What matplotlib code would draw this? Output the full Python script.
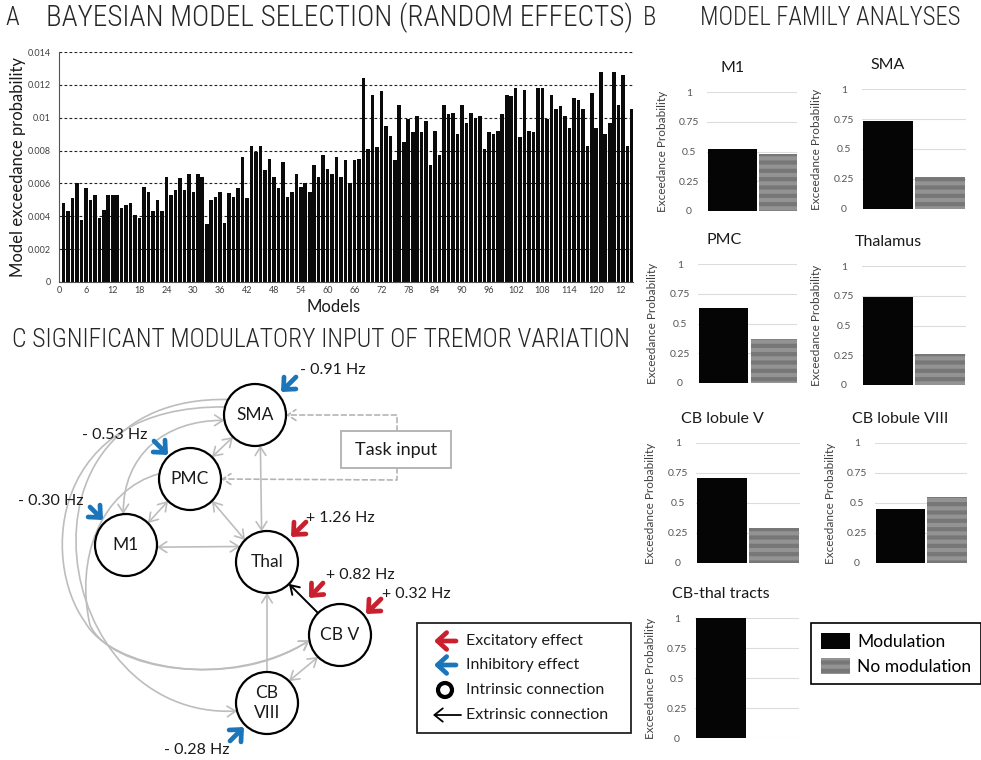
import numpy as np
import matplotlib
matplotlib.use('Agg')
import matplotlib.pyplot as plt
from matplotlib.patches import Circle, FancyArrowPatch, Rectangle
from matplotlib.path import Path
from matplotlib.transforms import Bbox, TransformedBbox, IdentityTransform

plt.rcParams['font.family'] = ['Lato', 'DejaVu Sans']
plt.rcParams['hatch.linewidth'] = 3.0

#%% data
# exceedance probability per model, models 1..128
exc_1_32 = [0.0048, 0.0043, 0.0051, 0.0060, 0.0038, 0.0057, 0.0050, 0.0053,
            0.0039, 0.0044, 0.0053, 0.0053, 0.0053, 0.0045, 0.0047, 0.0048,
            0.0041, 0.0039, 0.0058, 0.0055, 0.0043, 0.0050, 0.0043, 0.0064,
            0.0053, 0.0056, 0.0063, 0.0056, 0.0066, 0.0055, 0.0066, 0.0064]
exc_33_64 = [0.0035, 0.0050, 0.0052, 0.0055, 0.0036, 0.0054, 0.0052, 0.0057,
             0.0076, 0.0051, 0.0083, 0.0079, 0.0083, 0.0068, 0.0075, 0.0064,
             0.0057, 0.0073, 0.0052, 0.0055, 0.0066, 0.0058, 0.0060, 0.0055,
             0.0071, 0.0064, 0.0077, 0.0069, 0.0066, 0.0076, 0.0064, 0.0074]
exc_65_96 = [0.0060, 0.0074, 0.0075, 0.0124, 0.0081, 0.0114, 0.0082, 0.0116,
             0.0095, 0.0089, 0.0074, 0.0108, 0.0085, 0.0099, 0.0091, 0.0101,
             0.0091, 0.0098, 0.0071, 0.0092, 0.0077, 0.0108, 0.0102, 0.0103,
             0.0090, 0.0108, 0.0097, 0.0103, 0.0100, 0.0101, 0.0081, 0.0091]
exc_97_128 = [0.0090, 0.0092, 0.0102, 0.0114, 0.0113, 0.0118, 0.0088, 0.0117,
              0.0092, 0.0091, 0.0118, 0.0118, 0.0099, 0.0114, 0.0105, 0.0107,
              0.0101, 0.0094, 0.0112, 0.0111, 0.0105, 0.0083, 0.0115, 0.0094,
              0.0128, 0.0090, 0.0097, 0.0128, 0.0108, 0.0126, 0.0083, 0.0105]
model_exc = exc_1_32 + exc_33_64 + exc_65_96 + exc_97_128
model_ids = np.arange(1, len(model_exc) + 1)
yticks_a = [0, 0.002, 0.004, 0.006, 0.008, 0.01, 0.012, 0.014]

# family comparisons
families = ['M1', 'SMA', 'PMC', 'Thalamus', 'CB lobule V', 'CB lobule VIII', 'CB-thal tracts']
p_mod = [0.52, 0.73, 0.63, 0.74, 0.71, 0.45, 1.0]
p_nomod = [0.48, 0.27, 0.37, 0.26, 0.29, 0.55, 0.0]
groups = ['Modulation', 'No modulation']
yticks_b = [0, 0.25, 0.5, 0.75, 1]

# DCM network
regions = ['SMA', 'PMC', 'M1', 'Thal', 'CB V', 'CB VIII']
mod_sites = ['SMA', 'PMC', 'M1', 'Thal', 'CB V-Thal', 'CB V', 'CB VIII']
mod_hz = [-0.91, -0.53, -0.30, 1.26, 0.82, 0.32, -0.28]
legend_c = ['Excitatory effect', 'Inhibitory effect', 'Intrinsic connection', 'Extrinsic connection']

#%% layout (pixels, y down)
W, H = 981, 760
fig = plt.figure(figsize=(W / 100, H / 100), dpi=100)


def px_axes(x0, yt, x1, yb):
    return fig.add_axes([x0 / W, 1 - yb / H, (x1 - x0) / W, (yb - yt) / H])


def fit_width(t, width):
    r = fig.canvas.get_renderer()
    w = t.get_window_extent(r).width
    t.set_fontsize(t.get_fontsize() * width / w)


RED = '#c8202f'
BLUE = '#1b75bb'
GREY = '#bdbdbd'

# overlay for titles and the network drawing
ov = fig.add_axes([0, 0, 1, 1])
ov.set_xlim(0, W)
ov.set_ylim(H, 0)
ov.axis('off')

title_font = ['Liberation Sans Narrow', 'Roboto Condensed', 'DejaVu Sans']
for x, y, s, w in [(5, 18, 'A', None), (46, 18, 'BAYESIAN MODEL SELECTION (RANDOM EFFECTS)', 587),
                   (643, 18, 'B', None), (700, 18, 'MODEL FAMILY ANALYSES', 260),
                   (12, 340, 'C SIGNIFICANT MODULATORY INPUT OF TREMOR VARIATION', 621)]:
    t = ov.text(x, y, s, fontsize=18, family=title_font, fontweight='light',
                color='#262626', ha='left', va='center')
    if w:
        fit_width(t, w)

#%% A: bayesian model selection
ax = px_axes(59, 52, 633, 282)
ax.bar(model_ids, model_exc, width=0.8, color='#0a0a0a', linewidth=0)
ax.set_xlim(0, 128.2)
ax.set_ylim(0, 0.014)
ax.set_yticks(yticks_a)
ax.set_yticklabels([f'{v:g}' for v in yticks_a])
ax.set_xticks(np.arange(0, 127, 6))
ax.set_axisbelow(True)
ax.yaxis.grid(True, color='#222222', linestyle=(0, (2.5, 2)), linewidth=0.8)
ax.tick_params(length=0, labelsize=6.5, labelcolor='#404040')
ax.tick_params(axis='x', pad=3)
ax.tick_params(axis='y', pad=6)
for s in ['top', 'right']:
    ax.spines[s].set_visible(False)
ax.spines['left'].set_color('#555555')
ax.spines['bottom'].set_color('#555555')
ax.set_ylabel('Model exceedance probability', fontsize=12, color='#1a1a1a')
ax.yaxis.set_label_coords(-41 / 574, 0.5)
ax.yaxis.label.set_va('center')
ax.set_xlabel('Models', fontsize=12, color='#1a1a1a')
ax.xaxis.set_label_coords(275 / 574, -25 / 230)
ax.xaxis.label.set_va('center')
# the axis is cut at the right edge, so the last label is cut too
clip = TransformedBbox(Bbox.from_extents(0, 0, 626, H), IdentityTransform())
for tk in ax.xaxis.get_major_ticks():
    tk.label1.set_clip_box(clip)
    tk.label1.set_clip_on(True)

#%% B: family analyses
b_boxes = [(707, 797, 92, 211, 1.26), (862, 966, 89, 209, 1.5),
           (698, 797, 264, 383, 1.42), (862, 966, 266, 385, 1.5),
           (696, 800, 443, 563, 1.5), (875, 967, 443, 563, 1.3),
           (695, 799, 618, 738, 1.5)]
for fam, pm, pn, (x0, x1, yt, yb, xmax) in zip(families, p_mod, p_nomod, b_boxes):
    bx = px_axes(x0, yt, x1, yb)
    h1 = bx.bar(0, pm, width=0.95, color='#050505', linewidth=0)
    h2 = bx.bar(1, pn, width=0.95, facecolor='#939393', edgecolor='#777777',
                hatch='--', linewidth=0)
    bx.set_xlim(-0.5, xmax)
    bx.set_ylim(0, 1)
    bx.set_xticks([])
    bx.set_yticks(yticks_b)
    bx.set_yticklabels([f'{v:g}' for v in yticks_b], ha='center')
    bx.tick_params(length=0, labelsize=7.5, labelcolor='#555555', pad=13)
    bx.set_axisbelow(True)
    bx.yaxis.grid(True, color='#dcdcdc', linewidth=0.8)
    for s in bx.spines.values():
        s.set_visible(False)
    bx.set_ylabel('Exceedance Probability', fontsize=8.5, color='#404040')
    bx.yaxis.set_label_coords(-45 / (x1 - x0), 0.5)
    bx.yaxis.label.set_va('center')
    bx.annotate(fam, xy=(0, 1), xycoords=('data', 'axes fraction'),
                xytext=(0, 24 * 0.72), textcoords='offset points',
                ha='center', va='center', fontsize=11.5, color='#1a1a1a')

fig.legend([h1, h2], groups, loc='upper left',
           bbox_to_anchor=(811 / W, 1 - 623 / H), borderaxespad=0,
           fontsize=12.5, frameon=True, fancybox=False, edgecolor='black',
           framealpha=1, handlelength=1.7, handleheight=1.1,
           handletextpad=0.4, labelspacing=0.45, borderpad=0.55)
fig.legends[0].get_frame().set_linewidth(1.2)

#%% C: network
R = 31
node_xy = {'SMA': (255, 415), 'PMC': (190, 479), 'M1': (126, 545),
           'Thal': (267, 562), 'CB V': (340, 635), 'CB VIII': (267, 703)}
node_text = {'CB VIII': 'CB\nVIII'}


def port(name, ang):
    cx, cy = node_xy[name]
    a = np.radians(ang)
    return (cx + R * np.cos(a), cy - R * np.sin(a))


def arrow(path=None, a=None, b=None, style='->', color=GREY, lw=1.2, ms=12,
          hl=0.5, hw=0.32, ls='-', z=2):
    st = f'{style},head_length={hl},head_width={hw}'
    if path is not None:
        p = FancyArrowPatch(path=path, arrowstyle=st, color=color, lw=lw,
                            mutation_scale=ms, linestyle=ls, zorder=z)
    else:
        p = FancyArrowPatch(a, b, arrowstyle=st, color=color, lw=lw,
                            mutation_scale=ms, shrinkA=0, shrinkB=0,
                            linestyle=ls, zorder=z)
    ov.add_patch(p)


# straight intrinsic connections
edges = [('SMA', 225, 'PMC', 45, '<->'), ('SMA', -80, 'Thal', 100, '<->'),
         ('PMC', -45, 'Thal', 135, '<->'), ('PMC', 225, 'M1', 45, '<->'),
         ('M1', -4, 'Thal', 150, '<->'), ('CB VIII', 90, 'Thal', 270, '->'),
         ('CB VIII', 45, 'CB V', 225, '<->')]
for a, aa, b, ab, st in edges:
    arrow(a=port(a, aa), b=port(b, ab), style=st)

# long curved connections on the left
C4 = Path.CURVE4
curves = [
    Path([port('SMA', 150), (0, 395), (50, 720), port('CB VIII', 195)],
         [Path.MOVETO, C4, C4, C4]),
    Path([port('SMA', 165), (50, 405), (40, 560), (85, 622),
          (110, 668), (230, 692), port('CB V', 190)],
         [Path.MOVETO, C4, C4, C4, C4, C4, C4]),
    Path([port('PMC', 170), (100, 490), (75, 560), (90, 625),
          (110, 670), (230, 690), port('CB V', 190)],
         [Path.MOVETO, C4, C4, C4, C4, C4, C4]),
]
for p in curves:
    arrow(path=p, style='->')
arrow(path=Path([port('SMA', 190), (165, 420), (123, 455), port('M1', 95)],
                [Path.MOVETO, C4, C4, C4]), style='<->')

# task input box with dashed driving inputs
ov.add_patch(Rectangle((341, 431), 110, 37, fill=False, edgecolor='#b0b0b0', lw=1.3))
ov.text(396, 449.5, 'Task input', ha='center', va='center', fontsize=13, color='#1a1a1a')
arrow(path=Path([(397, 431), (397, 415), port('SMA', 0)]), color='#b4b4b4',
      ls=(0, (3, 2)))
arrow(path=Path([(397, 468), (397, 480), port('PMC', 0)]), color='#b4b4b4',
      ls=(0, (3, 2)))

# extrinsic CB V -> Thal
arrow(a=port('CB V', 135), b=port('Thal', -45), color='black', lw=1.4)

for name in regions:
    ov.add_patch(Circle(node_xy[name], R, facecolor='white', edgecolor='black',
                        lw=1.6, zorder=3))
    ov.text(*node_xy[name], node_text.get(name, name), ha='center', va='center',
            fontsize=12.5, linespacing=1.35, zorder=4, color='#1a1a1a')

# modulatory inputs: tail, tip, label anchor, alignment
mod_layout = {'SMA': ((296, 377), (281, 392), (300, 370), 'left'),
              'PMC': ((154, 441), (168, 455), (147, 435), 'right'),
              'M1': ((90, 507), (103, 520), (83, 501), 'right'),
              'Thal': ((306, 522), (291, 537), (306, 518), 'left'),
              'CB V-Thal': ((323, 583), (309, 598), (326, 575), 'left'),
              'CB V': ((381, 599), (366, 614), (382, 594), 'left'),
              'CB VIII': ((230, 741), (244, 727), (229, 750), 'right')}
for site, hz in zip(mod_sites, mod_hz):
    tail, tip, lab, ha = mod_layout[site]
    col = RED if hz > 0 else BLUE
    arrow(a=tail, b=tip, color=col, lw=3.4, ms=11, hl=0.6, hw=0.55, z=5)
    txt = ('+ ' if hz > 0 else '- ') + f'{abs(hz):.2f} Hz'
    ov.text(*lab, txt, ha=ha, va='center', fontsize=11.5, color='#1a1a1a')

# legend for the network
ov.add_patch(Rectangle((417, 623), 214, 110, fill=False, edgecolor='#222222', lw=1.3))
ly = [641, 665, 690, 715]
arrow(a=(456, ly[0]), b=(434, ly[0]), color=RED, lw=3.4, ms=11, hl=0.6, hw=0.55, z=5)
arrow(a=(456, ly[1]), b=(434, ly[1]), color=BLUE, lw=3.4, ms=11, hl=0.6, hw=0.55, z=5)
ov.add_patch(Circle((445, ly[2]), 7, fill=False, edgecolor='black', lw=3))
arrow(a=(461, ly[3]), b=(433, ly[3]), color='black', lw=1.3, ms=12, hl=0.5, hw=0.4)
for y, s in zip(ly, legend_c):
    ov.text(466, y, s, ha='left', va='center', fontsize=11.5, color='#1a1a1a')

fig.savefig('out.png', dpi=100)
